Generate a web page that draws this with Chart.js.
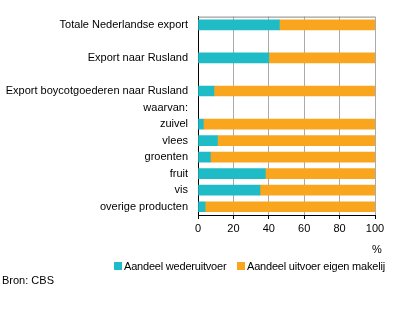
<!DOCTYPE html>
<html>
<head>
<meta charset="utf-8">
<script src="https://cdn.jsdelivr.net/npm/chart.js@4.4.0/dist/chart.umd.min.js"></script>
<style>
  body { margin: 0; background: #fff; font-family: "Liberation Sans", Arial, sans-serif; font-size: 11px; color: #000; }
  #wrap { position: relative; width: 396px; height: 325px; }
  .txt { position: absolute; line-height: 13px; white-space: nowrap; }
  .leg { letter-spacing: -0.2px; }
  .box { display: inline-block; width: 8px; height: 8px; margin-right: 2px; }
</style>
</head>
<body>
<div id="wrap">
  <canvas id="our-chart" width="396" height="325"></canvas>
  <span class="txt" style="left:372px; top:243px;">%</span>
  <span class="txt leg" style="left:114px; top:260px;"><span class="box" style="background:#1fbcc7"></span>Aandeel wederuitvoer</span>
  <span class="txt leg" style="left:237px; top:260px;"><span class="box" style="background:#f9a61e"></span>Aandeel uitvoer eigen makelij</span>
  <span class="txt" style="left:2px; top:274px;">Bron: CBS</span>
</div>
<script>
// Categories and values (percent of export)
const categories = ['Totale Nederlandse export', '', 'Export naar Rusland', '', 'Export boycotgoederen naar Rusland', 'waarvan:', 'zuivel', 'vlees', 'groenten', 'fruit', 'vis', 'overige producten'];
const wederuitvoer = [46, null, 40, null, 9, null, 3, 11, 7, 38, 35, 4];
const eigenMakelij = [54, null, 60, null, 91, null, 97, 89, 93, 62, 65, 96];
const xTicks = [0, 20, 40, 60, 80, 100];

// top border of the plot area
const topBorder = {
  id: 'topBorder',
  afterDraw(chart) {
    const {ctx, chartArea} = chart;
    ctx.save();
    ctx.strokeStyle = '#888';
    ctx.lineWidth = 1;
    ctx.beginPath();
    ctx.moveTo(chartArea.left, chartArea.top + 0.5);
    ctx.lineTo(chartArea.right, chartArea.top + 0.5);
    ctx.stroke();
    ctx.restore();
  }
};

Chart.defaults.font.family = '"Liberation Sans", Arial, sans-serif';
Chart.defaults.font.size = 11;
Chart.defaults.color = '#000';

const ctx = document.getElementById('our-chart').getContext('2d');
const myChart = new Chart(ctx, {
  type: 'bar',
  data: {
    labels: categories,
    datasets: [{
      label: 'Aandeel wederuitvoer',
      data: wederuitvoer,
      backgroundColor: '#1fbcc7',
      barThickness: 10
    }, {
      label: 'Aandeel uitvoer eigen makelij',
      data: eigenMakelij,
      backgroundColor: '#f9a61e',
      barThickness: 10
    }]
  },
  options: {
    indexAxis: 'y',
    responsive: false,
    animation: false,
    layout: { padding: { top: 13, right: 21, bottom: 90, left: 0 } },
    plugins: {
      legend: { display: false },
      tooltip: { enabled: false }
    },
    scales: {
      x: {
        stacked: true,
        min: 0,
        max: 100,
        afterBuildTicks: (scale) => { scale.ticks = xTicks.map(v => ({ value: v })); },
        afterFit: (scale) => { scale.height = 20; },
        grid: { color: '#aaa', tickColor: '#000', tickLength: 4 },
        border: { color: '#000' },
        ticks: { padding: 3, maxRotation: 0 }
      },
      y: {
        stacked: true,
        afterFit: (scale) => { scale.width = 198; },
        grid: { display: false, drawTicks: false },
        border: { color: '#000' },
        ticks: { padding: 10, autoSkip: false }
      }
    }
  },
  plugins: [topBorder]
});
</script>
</body>
</html>
